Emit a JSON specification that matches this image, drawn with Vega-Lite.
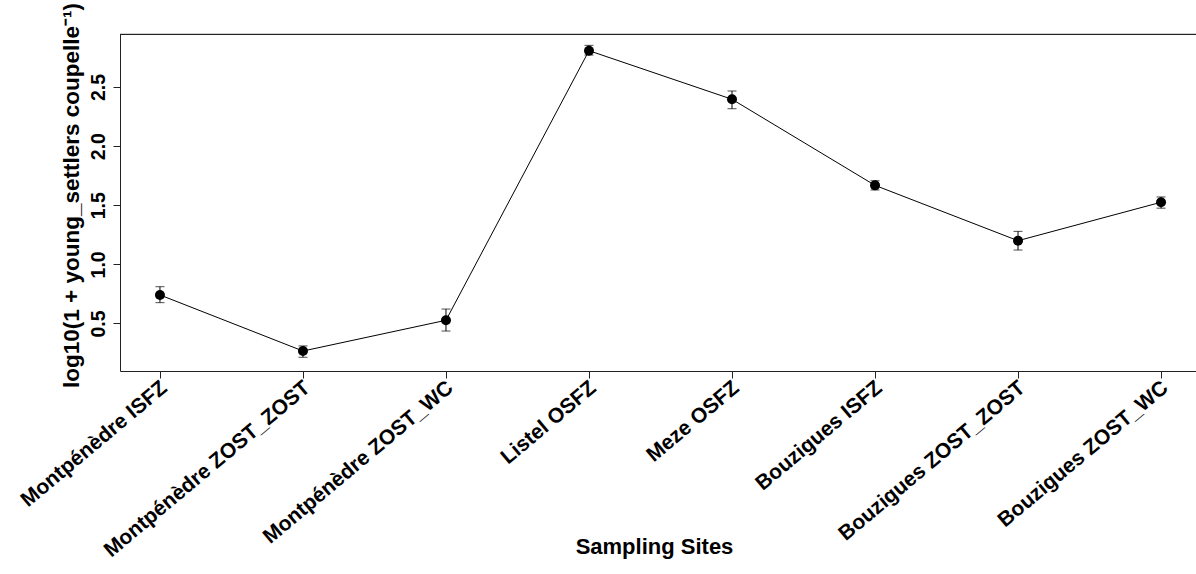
{
  "$schema": "https://vega.github.io/schema/vega-lite/v6.json",
  "width": 1076,
  "height": 337,
  "autosize": {"type": "none"},
  "padding": {"left": 120, "top": 34, "right": 0, "bottom": 203},
  "background": "white",
  "view": {"stroke": null, "strokeWidth": 0},
  "config": {
    "view": {"stroke": null, "strokeWidth": 0},
    "font": "Liberation Sans",
    "axis": {"grid": false, "domainColor": "#222", "tickColor": "#222", "labelColor": "black", "titleColor": "black", "labelFont": "Liberation Sans", "titleFont": "Liberation Sans", "labelFontWeight": "bold", "titleFontWeight": "bold"}
  },
  "data": {
    "values": [
      {"site": "Montpénèdre ISFZ", "mean": 0.741, "lo": 0.676, "hi": 0.811},
      {"site": "Montpénèdre ZOST_ZOST", "mean": 0.267, "lo": 0.214, "hi": 0.310},
      {"site": "Montpénèdre ZOST_WC", "mean": 0.527, "lo": 0.436, "hi": 0.622},
      {"site": "Listel OSFZ", "mean": 2.807, "lo": 2.770, "hi": 2.852},
      {"site": "Meze OSFZ", "mean": 2.396, "lo": 2.316, "hi": 2.466},
      {"site": "Bouzigues ISFZ", "mean": 1.668, "lo": 1.629, "hi": 1.707},
      {"site": "Bouzigues ZOST_ZOST", "mean": 1.200, "lo": 1.121, "hi": 1.279},
      {"site": "Bouzigues ZOST_WC", "mean": 1.525, "lo": 1.475, "hi": 1.570}
    ]
  },
  "layer": [
    {
      "mark": {"type": "line", "color": "black", "strokeWidth": 1},
      "encoding": {
        "x": {
          "field": "site", "type": "nominal", "sort": null,
          "scale": {"type": "point", "padding": 0.262, "align": 0.5333},
          "axis": {
            "orient": "bottom", "title": "Sampling Sites", "titleFontSize": 22,
            "titleX": 534, "titleY": 182, "titleBaseline": "alphabetic", "titleAlign": "center", "titleAnchor": null,
            "labelAngle": -40, "labelAlign": "right", "labelBaseline": "middle", "labelFontSize": 21,
            "labelPadding": 7, "labelOffset": 4, "tickSize": 7, "labelOverlap": false, "labelLimit": 0
          }
        },
        "y": {
          "field": "mean", "type": "quantitative",
          "scale": {"domain": [0.098, 2.948], "nice": false, "zero": false},
          "axis": {
            "title": "log10(1 + young_settlers coupelle⁻¹)", "titleFontSize": 22.5,
            "titleAngle": -90, "titleX": -41.5, "titleY": 161, "titleBaseline": "alphabetic", "titleAlign": "center", "titleAnchor": null,
            "values": [0.5, 1.0, 1.5, 2.0, 2.5], "format": ".1f",
            "labelAngle": -90, "labelAlign": "center", "labelBaseline": "bottom", "labelFontSize": 19.5,
            "labelPadding": 5, "tickSize": 7
          }
        }
      }
    },
    {
      "mark": {"type": "point", "shape": "circle", "filled": true, "color": "black", "opacity": 1, "size": 100},
      "encoding": {
        "x": {"field": "site", "type": "nominal", "sort": null},
        "y": {"field": "mean", "type": "quantitative"}
      }
    },
    {
      "mark": {"type": "rule", "color": "black", "strokeWidth": 1},
      "encoding": {
        "x": {"field": "site", "type": "nominal", "sort": null},
        "y": {"field": "lo", "type": "quantitative", "title": "log10(1 + young_settlers coupelle⁻¹)"},
        "y2": {"field": "hi"}
      }
    },
    {
      "mark": {"type": "tick", "color": "black", "thickness": 1, "size": 9},
      "encoding": {
        "x": {"field": "site", "type": "nominal", "sort": null},
        "y": {"field": "lo", "type": "quantitative", "title": "log10(1 + young_settlers coupelle⁻¹)"}
      }
    },
    {
      "mark": {"type": "tick", "color": "black", "thickness": 1, "size": 9},
      "encoding": {
        "x": {"field": "site", "type": "nominal", "sort": null},
        "y": {"field": "hi", "type": "quantitative", "title": "log10(1 + young_settlers coupelle⁻¹)"}
      }
    },
    {
      "mark": {"type": "rule", "color": "#222", "strokeWidth": 1},
      "encoding": {
        "y": {"datum": 2.944, "type": "quantitative", "title": "log10(1 + young_settlers coupelle⁻¹)"}
      }
    }
  ]
}
